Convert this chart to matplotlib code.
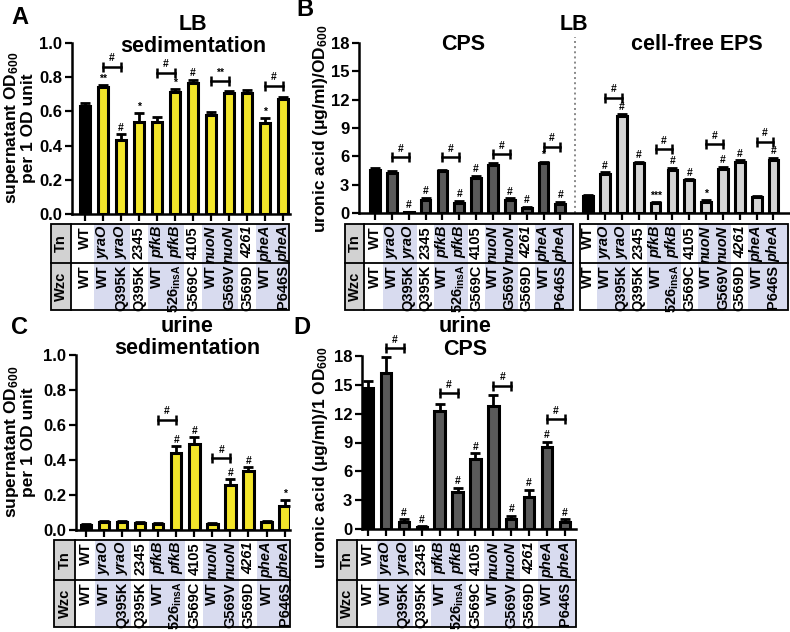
import matplotlib
matplotlib.use('Agg')
import matplotlib.pyplot as plt
import matplotlib.transforms as mtransforms
from matplotlib.patches import Rectangle
import numpy as np

plt.rcParams['font.family'] = ['Liberation Sans', 'DejaVu Sans']
plt.rcParams['font.weight'] = 'bold'
plt.rcParams['mathtext.fontset'] = 'custom'
plt.rcParams['mathtext.rm'] = 'Liberation Sans:bold'
plt.rcParams['mathtext.it'] = 'Liberation Sans:italic:bold'
plt.rcParams['mathtext.bf'] = 'Liberation Sans:bold'
plt.rcParams['mathtext.default'] = 'rm'

# ---------------- data ----------------
tn_labels = ['WT', 'yraO', 'yraO', '2345', 'pfkB', 'pfkB', '4105', 'nuoN', 'nuoN', '4261', 'pheA', 'pheA']
tn_italic = [False, True, True, False, True, True, False, True, True, True, True, True]
wzc_labels = ['WT', 'WT', 'Q395K', 'Q395K', 'WT', '526$_{insA}$', 'G569C', 'WT', 'G569V', 'G569D', 'WT', 'P646S']
shaded = [False, True, True, False, True, True, False, True, True, False, True, True]

# A: LB sedimentation
a_vals = [0.63, 0.74, 0.43, 0.54, 0.54, 0.715, 0.765, 0.58, 0.705, 0.705, 0.535, 0.67]
a_errs = [0.02, 0.015, 0.035, 0.05, 0.025, 0.015, 0.02, 0.017, 0.015, 0.02, 0.025, 0.015]
a_marks = ['', '**', '#', '*', '', '*', '#', '', '', '', '*', '']
a_brackets = [(1, 2, 0.86, '#'), (4, 5, 0.826, '#'), (7, 8, 0.776, '**'), (10, 11, 0.75, '#')]

# B: LB CPS and cell-free EPS
b_cps_vals = [4.6, 4.25, 0.1, 1.35, 4.45, 1.1, 3.75, 5.1, 1.35, 0.5, 5.3, 1.0]
b_cps_errs = [0.15, 0.15, 0.05, 0.25, 0.15, 0.2, 0.2, 0.15, 0.2, 0.15, 0.15, 0.2]
b_cps_marks = ['', '', '#', '#', '', '#', '#', '', '#', '#', '*', '#']
b_cps_brackets = [(1, 2, 5.9, '#'), (4, 5, 5.9, '#'), (7, 8, 6.2, '#'), (10, 11, 7.0, '#')]
b_eps_vals = [1.8, 4.15, 10.3, 5.3, 1.05, 4.6, 3.45, 1.2, 4.7, 5.45, 1.7, 5.65]
b_eps_errs = [0.1, 0.15, 0.2, 0.15, 0.1, 0.2, 0.15, 0.15, 0.2, 0.15, 0.1, 0.2]
b_eps_marks = ['', '#', '#', '#', '***', '#', '#', '*', '#', '#', '', '#']
b_eps_brackets = [(1, 2, 12.2, '#'), (4, 5, 6.75, '#'), (7, 8, 7.3, '#'), (10, 11, 7.55, '#')]

# C: urine sedimentation
c_vals = [0.03, 0.045, 0.045, 0.04, 0.035, 0.44, 0.49, 0.035, 0.26, 0.34, 0.045, 0.14]
c_errs = [0.005, 0.005, 0.005, 0.005, 0.005, 0.04, 0.04, 0.005, 0.03, 0.02, 0.005, 0.03]
c_marks = ['', '', '', '', '', '#', '#', '', '#', '#', '', '*']
c_brackets = [(4, 5, 0.63, '#'), (7, 8, 0.41, '#')]

# D: urine CPS
d_vals = [14.7, 16.2, 0.75, 0.2, 12.3, 3.9, 7.3, 12.8, 1.0, 3.3, 8.5, 0.7]
d_errs = [0.7, 1.7, 0.3, 0.1, 0.7, 0.4, 0.6, 1.1, 0.4, 0.8, 0.6, 0.3]
d_marks = ['', '', '#', '#', '', '#', '#', '', '#', '#', '#', '#']
d_brackets = [(1, 2, 18.8, '#'), (4, 5, 14.1, '#'), (7, 8, 14.9, '#'), (10, 11, 11.4, '#')]

# ---------------- styling ----------------
W, H = 790, 632
YELLOW = '#f2e52a'
DARK = '#5a5a5a'
LIGHT = '#d4d4d4'
SHADE = '#d8dbef'
HEADER = '#d2d2d2'

fig = plt.figure(figsize=(W / 100, H / 100), dpi=100)


def fy(p):
    return 1 - p / H


def add_ax(x0, x1, ytop, ybot):
    return fig.add_axes([x0 / W, 1 - ybot / H, (x1 - x0) / W, (ybot - ytop) / H])


def style(ax, ylim, yticks, fmt):
    ax.set_ylim(*ylim)
    ax.set_yticks(yticks)
    ax.set_yticklabels([fmt.format(t) for t in yticks], fontsize=12, fontweight='bold')
    for s in ['top', 'right']:
        ax.spines[s].set_visible(False)
    for s in ['left', 'bottom']:
        ax.spines[s].set_linewidth(1.8)
    ax.tick_params(axis='y', direction='out', length=5, width=1.6, pad=2)
    ax.tick_params(axis='x', direction='out', length=5, width=1.6, labelbottom=False)
    ax.patch.set_alpha(0)


def draw_bars(ax, pos, vals, errs, colors, width):
    pos = np.asarray(pos, float)
    ax.bar(pos, vals, width=width, color=colors, edgecolor='black', linewidth=2.2, zorder=2)
    ax.errorbar(pos, vals, yerr=[np.zeros(len(errs)), errs], fmt='none', ecolor='black',
                elinewidth=2.0, capsize=3.4, capthick=2.0, zorder=3)


def draw_marks(ax, pos, vals, errs, marks):
    for p, v, e, m in zip(pos, vals, errs, marks):
        if m:
            ax.annotate(m, (p, v + e), xytext=(0, 1), textcoords='offset points',
                        ha='center', va='bottom', fontsize=7.5, annotation_clip=False)


def draw_brackets(ax, pos, brackets):
    for i, j, y, lab in brackets:
        ax.plot([pos[i], pos[j]], [y, y], color='black', lw=1.8, marker='|', markersize=7,
                mew=1.8, clip_on=False, zorder=4)
        ax.annotate(lab, ((pos[i] + pos[j]) / 2, y), xytext=(0, 2.5), textcoords='offset points',
                    ha='center', va='bottom', fontsize=7.5, annotation_clip=False)


def draw_table(ax, pos, col_left, col_right, ytop, ymid, ybot, header_left=None):
    trans = mtransforms.blended_transform_factory(ax.transData, fig.transFigure)
    n = len(pos)
    for k in range(n):
        l = col_left if k == 0 else pos[k] - 0.5
        r = col_right if k == n - 1 else pos[k] + 0.5
        if shaded[k]:
            ax.add_patch(Rectangle((l, fy(ybot)), r - l, fy(ytop) - fy(ybot), transform=trans,
                                   facecolor=SHADE, edgecolor='none', clip_on=False, zorder=1))
        style_t = 'italic' if tn_italic[k] else 'normal'
        ax.text(pos[k], fy(ytop + 2), tn_labels[k], transform=trans, rotation=90, ha='center',
                va='top', fontsize=10.5, fontstyle=style_t, clip_on=False)
        ax.text(pos[k], fy(ymid + 2), wzc_labels[k], transform=trans, rotation=90, ha='center',
                va='top', fontsize=10.5, clip_on=False)
    left = col_left
    if header_left is not None:
        left = header_left
        ax.add_patch(Rectangle((header_left, fy(ybot)), col_left - header_left, fy(ytop) - fy(ybot),
                               transform=trans, facecolor=HEADER, edgecolor='none', clip_on=False,
                               zorder=1))
        hx = (header_left + col_left) / 2
        ax.text(hx, (fy(ytop) + fy(ymid)) / 2, 'Tn', transform=trans, rotation=90, ha='center',
                va='center', fontsize=10.5, clip_on=False)
        ax.text(hx, (fy(ymid) + fy(ybot)) / 2, 'Wzc', transform=trans, rotation=90, ha='center',
                va='center', fontsize=10.5, clip_on=False)
        ax.plot([col_left, col_left], [fy(ytop), fy(ybot)], color='black', lw=1.3,
                transform=trans, clip_on=False, zorder=5)
    ax.add_patch(Rectangle((left, fy(ybot)), col_right - left, fy(ytop) - fy(ybot), transform=trans,
                           facecolor='none', edgecolor='black', lw=1.3, clip_on=False, zorder=5))
    ax.plot([left, col_right], [fy(ymid), fy(ymid)], color='black', lw=1.3, transform=trans,
            clip_on=False, zorder=5)


idx = np.arange(12)

# ---------------- Panel A ----------------
axA = add_ax(72, 290, 43, 214)
colsA = ['black'] + [YELLOW] * 11
draw_bars(axA, idx, a_vals, a_errs, colsA, 0.58)
draw_marks(axA, idx, a_vals, a_errs, a_marks)
draw_brackets(axA, idx, a_brackets)
style(axA, (0, 1.0), [0, 0.2, 0.4, 0.6, 0.8, 1.0], '{:.1f}')
axA.set_xticks(idx)
draw_table(axA, idx, -0.75, 11.35, 224, 263, 310, header_left=-1.9)
axA.set_xlim(-0.72, 11.39)

# ---------------- Panel B ----------------
axB = add_ax(359, 789, 43, 213)
eps_off = 12.65
posB_cps = idx.astype(float)
posB_eps = idx + eps_off
draw_bars(axB, posB_cps, b_cps_vals, b_cps_errs, ['black'] + [DARK] * 11, 0.58)
draw_bars(axB, posB_eps, b_eps_vals, b_eps_errs, ['black'] + [LIGHT] * 11, 0.58)
draw_marks(axB, posB_cps, b_cps_vals, b_cps_errs, b_cps_marks)
draw_marks(axB, posB_eps, b_eps_vals, b_eps_errs, b_eps_marks)
draw_brackets(axB, posB_cps, b_cps_brackets)
draw_brackets(axB, posB_eps, b_eps_brackets)
style(axB, (0, 18), [0, 3, 6, 9, 12, 15, 18], '{:d}')
axB.set_xticks(np.concatenate([posB_cps, posB_eps]))
axB.plot([11.87, 11.87], [0, 18.6], color='#888888', lw=1.4, ls=':', clip_on=False)
draw_table(axB, posB_cps, -0.65, 11.75, 224, 263, 310, header_left=-1.78)
draw_table(axB, posB_eps, 12.17, 24.5, 224, 263, 310)
axB.set_xlim(-0.95, 24.57)

# ---------------- Panel C ----------------
axC = add_ax(76, 290, 355, 530)
draw_bars(axC, idx, c_vals, c_errs, colsA, 0.58)
draw_marks(axC, idx, c_vals, c_errs, c_marks)
draw_brackets(axC, idx, c_brackets)
style(axC, (0, 1.0), [0, 0.2, 0.4, 0.6, 0.8, 1.0], '{:.1f}')
axC.set_xticks(idx)
draw_table(axC, idx, -0.6, 11.3, 540, 580, 627, header_left=-1.75)
axC.set_xlim(-0.55, 11.3)

# ---------------- Panel D ----------------
axD = add_ax(362, 576, 356, 529)
draw_bars(axD, idx, d_vals, d_errs, ['black'] + [DARK] * 11, 0.58)
draw_marks(axD, idx, d_vals, d_errs, d_marks)
draw_brackets(axD, idx, d_brackets)
style(axD, (0, 18), [0, 3, 6, 9, 12, 15, 18], '{:d}')
axD.set_xticks(idx)
draw_table(axD, idx, -0.61, 11.62, 540, 580, 627, header_left=-1.73)
axD.set_xlim(-0.34, 11.62)

# ---------------- text ----------------
def ftext(x, y, s, **kw):
    fig.text(x / W, fy(y), s, **kw)

ftext(20, 17, 'A', fontsize=17, ha='center', va='center')
ftext(305, 10, 'B', fontsize=17, ha='center', va='center')
ftext(20, 327, 'C', fontsize=17, ha='center', va='center')
ftext(302, 327, 'D', fontsize=17, ha='center', va='center')

TS = 15.5
ftext(193, 25, 'LB', fontsize=TS, ha='center', va='center')
ftext(193, 47, 'sedimentation', fontsize=TS, ha='center', va='center')
ftext(574, 25, 'LB', fontsize=TS, ha='center', va='center')
ftext(463, 45, 'CPS', fontsize=TS, ha='center', va='center')
ftext(697, 45, 'cell-free EPS', fontsize=TS, ha='center', va='center')
ftext(187, 327, 'urine', fontsize=TS, ha='center', va='center')
ftext(187, 348, 'sedimentation', fontsize=TS, ha='center', va='center')
ftext(465, 327, 'urine', fontsize=TS, ha='center', va='center')
ftext(465, 350, 'CPS', fontsize=TS, ha='center', va='center')

ylab_sed = 'supernatant OD$_{600}$\nper 1 OD unit'
ftext(19, 128, ylab_sed, fontsize=12.5, rotation=90, ha='center', va='center',
      multialignment='center', linespacing=0.95)
ftext(19, 442, ylab_sed, fontsize=12.5, rotation=90, ha='center', va='center',
      multialignment='center', linespacing=0.95)
ftext(321, 129, 'uronic acid (\u03bcg/ml)/OD$_{600}$', fontsize=12.5, rotation=90,
      ha='center', va='center')
ftext(320, 458, 'uronic acid (\u03bcg/ml)/1 OD$_{600}$', fontsize=12.5, rotation=90,
      ha='center', va='center')

fig.savefig('out.png', dpi=100)
